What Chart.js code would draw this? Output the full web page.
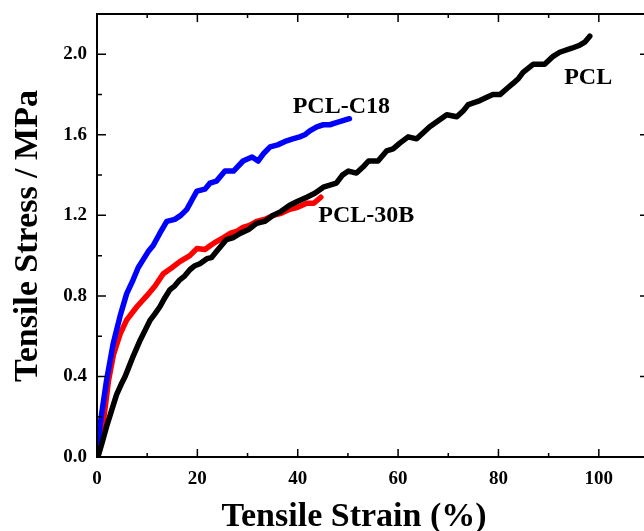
<!DOCTYPE html>
<html>
<head>
<meta charset="utf-8">
<script src="https://cdn.jsdelivr.net/npm/chart.js@4/dist/chart.umd.min.js"></script>
<style>
  html, body { margin: 0; padding: 0; background: #fff; overflow: hidden; }
  canvas { display: block; }
</style>
</head>
<body>
<canvas id="tensileChart" width="660" height="531"></canvas>
<script>
// Tensile data (strain %, stress MPa)
const strainPCL = [0, 0.3, 1.0, 1.9, 2.9, 3.9, 4.8, 5.6, 6.4, 7.2, 8.6, 9.6, 10.6, 11.5, 12.5, 13.5, 14.5, 15.5, 16.5, 17.5, 18.5, 19.5, 20.5, 21.9, 22.8, 23.8, 24.8, 25.8, 27.2, 28.5, 30.2, 31.8, 33.4, 35.1, 36.7, 38.4, 40.0, 41.8, 43.4, 45.1, 46.4, 47.7, 48.9, 50.1, 51.7, 53.0, 54.1, 56.0, 57.7, 59.0, 60.4, 62.0, 63.7, 65.0, 66.3, 68.0, 69.7, 71.7, 73.0, 74.0, 76.3, 78.0, 78.9, 80.3, 81.7, 82.9, 84.0, 84.9, 86.9, 89.2, 90.9, 92.2, 94.6, 96.2, 97.2, 98.2];
const stressPCL = [0, 0.01, 0.07, 0.15, 0.23, 0.31, 0.36, 0.40, 0.45, 0.50, 0.58, 0.63, 0.68, 0.71, 0.745, 0.79, 0.83, 0.85, 0.88, 0.90, 0.93, 0.95, 0.96, 0.985, 0.99, 1.02, 1.05, 1.08, 1.09, 1.11, 1.13, 1.16, 1.17, 1.20, 1.22, 1.25, 1.27, 1.29, 1.31, 1.34, 1.35, 1.36, 1.40, 1.42, 1.41, 1.44, 1.47, 1.47, 1.52, 1.53, 1.56, 1.59, 1.58, 1.61, 1.64, 1.67, 1.70, 1.69, 1.72, 1.75, 1.77, 1.79, 1.80, 1.80, 1.83, 1.855, 1.88, 1.91, 1.95, 1.95, 1.99, 2.01, 2.03, 2.045, 2.06, 2.09];

const strainC18 = [0, 0.3, 0.9, 1.9, 3.2, 4.6, 5.9, 7.2, 8.2, 9.2, 10.2, 11.2, 12.5, 13.9, 15.5, 16.7, 17.9, 19.0, 19.9, 21.5, 22.5, 23.8, 25.5, 27.2, 29.1, 30.9, 32.1, 33.3, 34.5, 36.0, 37.8, 39.0, 40.4, 41.4, 42.4, 43.8, 45.1, 46.4, 47.7, 49.0, 50.3];
const stressC18 = [0, 0.10, 0.21, 0.38, 0.56, 0.70, 0.81, 0.88, 0.94, 0.98, 1.02, 1.05, 1.11, 1.17, 1.18, 1.20, 1.23, 1.28, 1.32, 1.33, 1.36, 1.37, 1.42, 1.42, 1.47, 1.49, 1.47, 1.51, 1.54, 1.55, 1.57, 1.58, 1.59, 1.60, 1.62, 1.64, 1.65, 1.65, 1.66, 1.67, 1.68];

const strain30B = [0, 0.3, 1.3, 2.3, 3.3, 4.6, 5.9, 7.9, 9.9, 11.6, 13.2, 14.9, 16.5, 18.5, 19.9, 21.5, 22.6, 23.8, 25.2, 26.5, 27.8, 29.1, 30.4, 31.8, 33.4, 35.1, 36.7, 38.4, 40.0, 41.8, 43.2, 44.6];
const stress30B = [0, 0.04, 0.18, 0.38, 0.51, 0.61, 0.68, 0.745, 0.80, 0.85, 0.91, 0.94, 0.97, 1.00, 1.035, 1.03, 1.05, 1.07, 1.09, 1.11, 1.12, 1.14, 1.15, 1.17, 1.18, 1.20, 1.21, 1.23, 1.24, 1.26, 1.26, 1.29];

const seriesNames = ['PCL', 'PCL-C18', 'PCL-30B'];
const seriesColors = ['#000000', '#0000ff', '#ff0000'];

// text labels next to the curves (data coordinates, left/baseline)
const curveLabels = [
    { text: 'PCL-C18', x: 39.0, y: 1.706 },
    { text: 'PCL-30B', x: 44.1, y: 1.167 },
    { text: 'PCL', x: 93.1, y: 1.85 }
];

const FONT = '"Liberation Serif", "Times New Roman", serif';

function toPoints(xs, ys) {
    return xs.map((x, i) => ({ x: x, y: ys[i] }));
}

// frame, inward ticks, axis titles and curve labels
const framePlugin = {
    id: 'framePlugin',
    afterDraw(chart) {
        const ctx = chart.ctx;
        const area = chart.chartArea;
        const xs = chart.scales.x;
        const ys = chart.scales.y;
        ctx.save();
        ctx.strokeStyle = '#000';
        ctx.lineWidth = 2;
        ctx.strokeRect(area.left, area.top, area.right - area.left, area.bottom - area.top);

        ctx.lineWidth = 1.5;
        ctx.beginPath();
        for (let v = 0; v <= 110; v += 10) {
            const px = xs.getPixelForValue(v);
            const len = (v % 20 === 0) ? 8 : 4;
            ctx.moveTo(px, area.bottom);
            ctx.lineTo(px, area.bottom - len);
            ctx.moveTo(px, area.top);
            ctx.lineTo(px, area.top + len);
        }
        for (let k = 0; k <= 11; k++) {
            const py = ys.getPixelForValue(k * 0.2);
            const len = (k % 2 === 0) ? 9 : 5;
            ctx.moveTo(area.left, py);
            ctx.lineTo(area.left + len, py);
            ctx.moveTo(area.right, py);
            ctx.lineTo(area.right - len, py);
        }
        ctx.stroke();

        ctx.fillStyle = '#000';
        ctx.font = 'bold 24px ' + FONT;
        ctx.textAlign = 'left';
        ctx.textBaseline = 'alphabetic';
        curveLabels.forEach(l => {
            ctx.fillText(l.text, xs.getPixelForValue(l.x), ys.getPixelForValue(l.y));
        });

        ctx.font = 'bold 34px ' + FONT;
        ctx.textAlign = 'center';
        ctx.fillText('Tensile Strain (%)', 354, 526);

        ctx.translate(37, 236);
        ctx.rotate(-Math.PI / 2);
        ctx.fillText('Tensile Stress / MPa', 0, 0);
        ctx.restore();
    }
};

function initTensileChart() {
    const ctx = document.getElementById('tensileChart').getContext('2d');
    const dataSets = [
        toPoints(strainPCL, stressPCL),
        toPoints(strainC18, stressC18),
        toPoints(strain30B, stress30B)
    ];
    const tensileChart = new Chart(ctx, {
        type: 'scatter',
        data: {
            datasets: dataSets.map((pts, i) => ({
                label: seriesNames[i],
                data: pts,
                showLine: true,
                borderColor: seriesColors[i],
                backgroundColor: seriesColors[i],
                borderWidth: 5.5,
                borderCapStyle: 'round',
                borderJoinStyle: 'round',
                pointRadius: 0,
                tension: 0
            }))
        },
        options: {
            responsive: false,
            animation: false,
            layout: { padding: { top: 14, right: 11, left: 0, bottom: 0 } },
            plugins: {
                legend: { display: false },
                tooltip: { enabled: false }
            },
            scales: {
                x: {
                    type: 'linear',
                    min: 0,
                    max: 110,
                    grid: { display: false },
                    border: { display: false },
                    ticks: {
                        stepSize: 20,
                        includeBounds: false,
                        padding: 3,
                        color: '#000',
                        maxRotation: 0,
                        font: { family: FONT, size: 19, weight: 'bold' }
                    },
                    afterFit(scale) { scale.height = 74; }
                },
                y: {
                    type: 'linear',
                    min: 0,
                    max: 2.2,
                    grid: { display: false },
                    border: { display: false },
                    ticks: {
                        stepSize: 0.4,
                        includeBounds: false,
                        padding: 2,
                        color: '#000',
                        font: { family: FONT, size: 19, weight: 'bold' },
                        callback: v => v.toFixed(1)
                    },
                    afterFit(scale) {
                        scale.width = 97;
                        scale.paddingTop = 0;
                        scale.paddingBottom = 0;
                    }
                }
            }
        },
        plugins: [framePlugin]
    });
}

window.onload = () => {
    initTensileChart();
};
</script>
</body>
</html>
